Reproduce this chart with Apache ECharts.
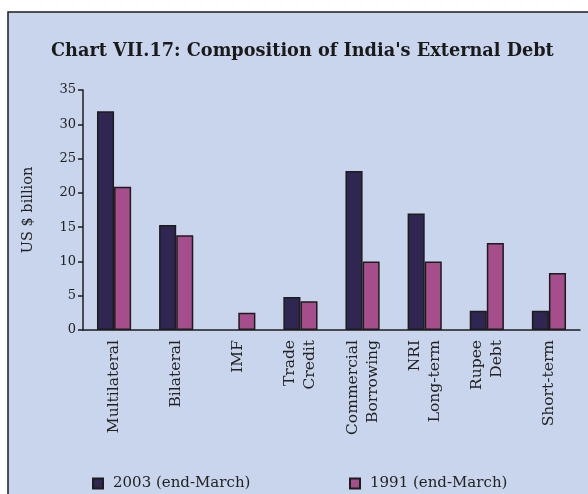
<!DOCTYPE html>
<html>
<head>
<meta charset="utf-8">
<script src="https://cdn.jsdelivr.net/npm/echarts@6/dist/echarts.min.js"></script>
<style>
  html, body { margin: 0; padding: 0; background: #ffffff; }
  #chart { width: 588px; height: 494px; }
</style>
</head>
<body>
<div id="chart"></div>
<script>
// Composition of India's external debt, US $ billion
var categories = ['Multilateral', 'Bilateral', 'IMF', 'Trade\nCredit', 'Commercial\nBorrowing', 'NRI\nLong-term', 'Rupee\nDebt', 'Short-term'];
var debt2003 = [31.9, 15.3, 0, 4.8, 23.2, 17.0, 2.8, 2.8];
var debt1991 = [20.9, 13.8, 2.5, 4.2, 10.0, 10.0, 12.7, 8.3];
var seriesNames = ['2003 (end-March)', '1991 (end-March)'];

var bg = '#c9d5ec';
var ink = '#1c1c1c';
var serif = '"DejaVu Serif", serif';

// zero-height bars get no outline so they don't leave a stub on the axis
function barData(values) {
  return values.map(function (v) {
    return v === 0 ? { value: 0, itemStyle: { borderWidth: 0 } } : v;
  });
}

var chart = echarts.init(document.getElementById('chart'));
chart.setOption({
  backgroundColor: '#ffffff',
  animation: false,
  graphic: [{
    type: 'rect',
    z: -10,
    shape: { x: 8, y: 12, width: 600, height: 500 },
    style: { fill: bg, stroke: ink, lineWidth: 1.5 }
  }],
  title: {
    text: "Chart VII.17: Composition of India's External Debt",
    left: 46,
    top: 37,
    textStyle: { fontFamily: serif, fontWeight: 'bold', fontSize: 17.7, color: '#1a1a1a' }
  },
  legend: [{
    data: [seriesNames[0]],
    left: 87, top: 471,
    icon: 'rect', itemWidth: 10, itemHeight: 10,
    textStyle: { fontFamily: serif, fontSize: 15, color: '#222', padding: [0, 0, 0, 5] }
  }, {
    data: [seriesNames[1]],
    left: 344, top: 471,
    icon: 'rect', itemWidth: 10, itemHeight: 10,
    textStyle: { fontFamily: serif, fontSize: 15, color: '#222', padding: [0, 0, 0, 5] }
  }],
  grid: { left: 83, right: 8, top: 90, bottom: 164, containLabel: false },
  xAxis: {
    type: 'category',
    data: categories,
    axisLine: { lineStyle: { color: ink, width: 1.5 } },
    axisTick: { length: 5, lineStyle: { color: ink, width: 1.5 } },
    axisLabel: {
      rotate: 90, interval: 0, margin: 10,
      fontFamily: serif, fontSize: 15.5, color: '#222', lineHeight: 20
    }
  },
  yAxis: {
    type: 'value',
    min: 0, max: 35, interval: 5,
    name: 'US $ billion',
    nameLocation: 'middle',
    nameRotate: 90,
    nameGap: 47,
    nameTextStyle: { fontFamily: serif, fontSize: 14.5, color: '#222' },
    axisLine: { show: true, lineStyle: { color: ink, width: 1.5 } },
    axisTick: { show: true, length: 5, lineStyle: { color: ink, width: 1.5 } },
    splitLine: { show: false },
    axisLabel: { fontFamily: serif, fontSize: 13, color: '#222', margin: 7 }
  },
  series: [{
    name: seriesNames[0],
    type: 'bar',
    data: barData(debt2003),
    barGap: '0%',
    barCategoryGap: '45%',
    itemStyle: { color: '#2f2752', borderColor: ink, borderWidth: 1.5 }
  }, {
    name: seriesNames[1],
    type: 'bar',
    data: barData(debt1991),
    itemStyle: { color: '#a64d8c', borderColor: ink, borderWidth: 1.5 }
  }]
});
</script>
</body>
</html>
